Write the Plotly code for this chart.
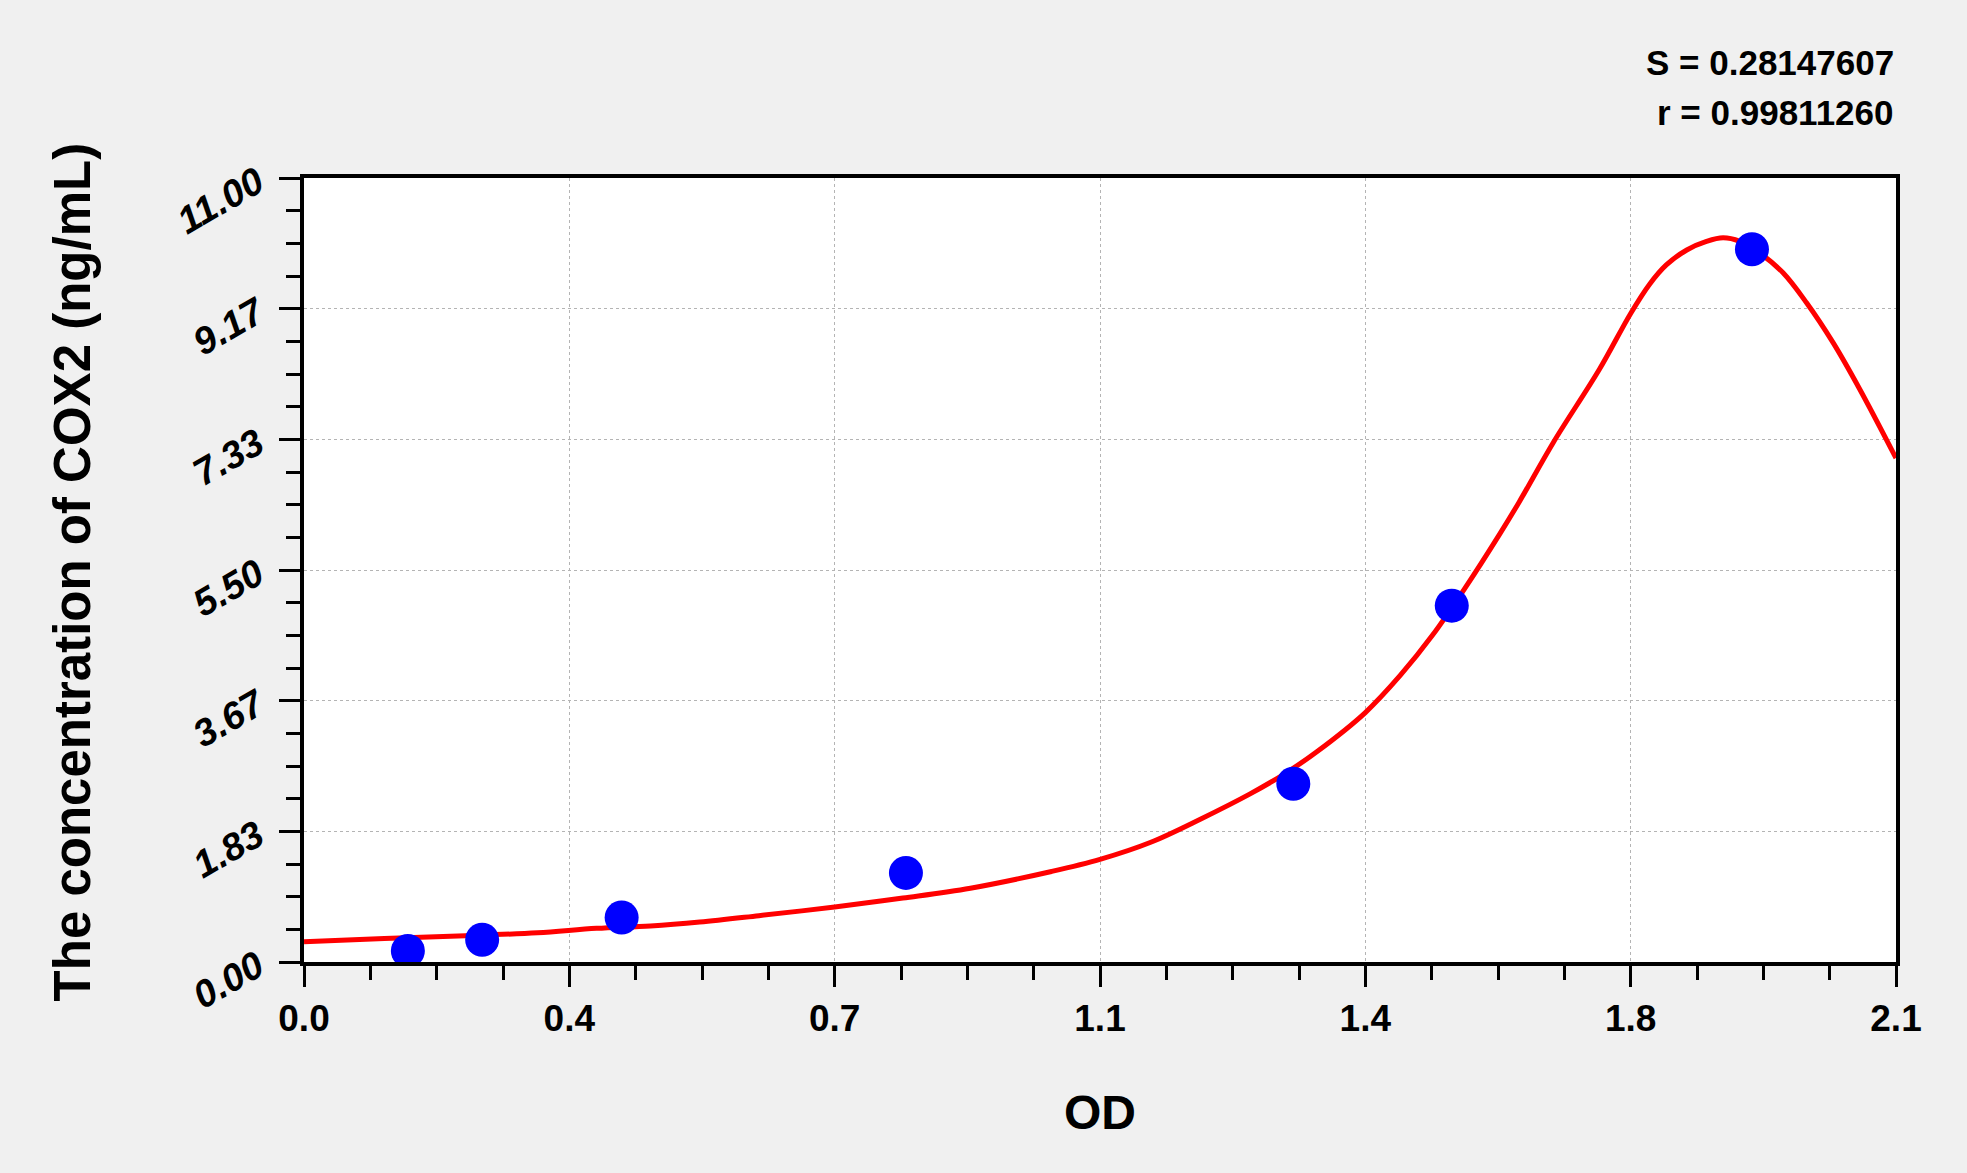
import plotly.graph_objects as go

# standards
od = [0.137, 0.235, 0.419, 0.794, 1.305, 1.514, 1.910]
conc = [0.156, 0.312, 0.625, 1.25, 2.5, 5.0, 10.0]

# fitted curve
fit_od = [0.0, 0.106, 0.213, 0.308, 0.386, 0.457, 0.522, 0.600, 0.700, 0.790, 0.879,
          0.986, 1.050, 1.117, 1.183, 1.248, 1.292, 1.336, 1.400, 1.446, 1.489,
          1.533, 1.577, 1.603, 1.648, 1.709, 1.750, 1.775, 1.797, 1.824, 1.850,
          1.872, 1.894, 1.920, 1.951, 1.982, 2.017, 2.052, 2.100]
fit_conc = [0.283, 0.331, 0.368, 0.411, 0.472, 0.505, 0.560, 0.650, 0.772, 0.897, 1.035,
            1.270, 1.440, 1.680, 2.007, 2.359, 2.630, 2.950, 3.500, 4.020, 4.590,
            5.270, 6.000, 6.455, 7.290, 8.320, 9.100, 9.510, 9.780, 9.990, 10.110,
            10.160, 10.110, 9.950, 9.670, 9.250, 8.690, 8.040, 7.070]

x_tickvals = [0.0, 0.35, 0.7, 1.05, 1.4, 1.75, 2.1]
x_ticktext = ["0.0", "0.4", "0.7", "1.1", "1.4", "1.8", "2.1"]
y_tickvals = [0.0, 11 / 6, 22 / 6, 5.5, 44 / 6, 55 / 6, 11.0]
y_ticktext = ["0.00", "1.83", "3.67", "5.50", "7.33", "9.17", "11.00"]

s_value = "S = 0.28147607"
r_value = "r = 0.99811260"

FONT = "Arial, Liberation Sans, sans-serif"

fig = go.Figure()
fig.add_trace(go.Scatter(x=fit_od, y=fit_conc, mode="lines", line=dict(color="#ff0000", width=5, shape="spline"),
                         showlegend=False, hoverinfo="skip"))
fig.add_trace(go.Scatter(x=od, y=conc, mode="markers", marker=dict(color="#0000ff", size=34, line=dict(width=0)),
                         showlegend=False))

axis_common = dict(showline=True, linewidth=4, linecolor="black", mirror=True,
                   ticks="outside", ticklen=21, tickwidth=3, tickcolor="black",
                   showgrid=True, gridcolor="#b4b4b4", gridwidth=1, griddash="dot",
                   zeroline=False)

fig.update_xaxes(range=[0, 2.1], tickmode="array", tickvals=x_tickvals, ticktext=x_ticktext,
                 tickfont=dict(family=FONT, size=37, color="black", weight="bold"),
                 ticklabelstandoff=0,
                 minor=dict(tickmode="linear", tick0=0, dtick=0.0875, ticks="outside", ticklen=14,
                            tickwidth=3, tickcolor="black", showgrid=False),
                 **axis_common)
fig.update_yaxes(range=[0, 11], tickmode="array", tickvals=y_tickvals, ticktext=y_ticktext,
                 tickangle=-30,
                 tickfont=dict(family=FONT, size=38, color="black", weight="bold", style="italic"),
                 ticklabelstandoff=14,
                 minor=dict(tickmode="linear", tick0=0, dtick=11 / 24, ticks="outside", ticklen=14,
                            tickwidth=3, tickcolor="black", showgrid=False),
                 **axis_common)

# axis titles placed as annotations so they sit where the original has them
fig.add_annotation(x=0.5, y=-0.1926, xref="paper", yref="paper", xanchor="center", yanchor="middle",
                   text="OD", showarrow=False, font=dict(family=FONT, size=48, color="black", weight="bold"))
fig.add_annotation(x=-0.1457, y=0.497, xref="paper", yref="paper", xanchor="center", yanchor="middle",
                   text="The concentration of COX2 (ng/mL)", textangle=-90, showarrow=False,
                   font=dict(family=FONT, size=51, color="black", weight="bold"))

fig.add_annotation(x=1, y=1.1467, xref="paper", yref="paper", xanchor="right", yanchor="middle",
                   text=s_value, showarrow=False, font=dict(family=FONT, size=35, color="black", weight="bold"))
fig.add_annotation(x=1, y=1.083, xref="paper", yref="paper", xanchor="right", yanchor="middle",
                   text=r_value, showarrow=False, font=dict(family=FONT, size=35, color="black", weight="bold"))

fig.update_layout(width=1967, height=1173, paper_bgcolor="#f0f0f0", plot_bgcolor="white",
                  margin=dict(l=304, r=71, t=178, b=211), showlegend=False)

fig.write_html("out.html", config={"displayModeBar": False},
               post_script="document.body.style.margin='0';")
